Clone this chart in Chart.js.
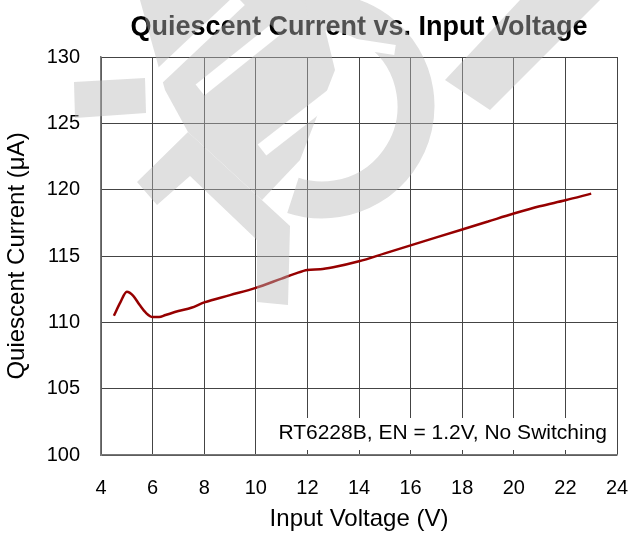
<!DOCTYPE html>
<html>
<head>
<meta charset="utf-8">
<script src="https://cdn.jsdelivr.net/npm/chart.js@4"></script>
<style>
  html, body { margin: 0; padding: 0; background: #fff; }
  #wrap { width: 631px; height: 534px; }
</style>
</head>
<body>
<div id="wrap"><canvas id="qChart" width="631" height="534"></canvas></div>
<script>
// Input voltage (V) and quiescent current (uA)
const voltage = [4.5, 4.75, 5.0, 5.25, 5.5, 5.75, 6.0, 6.25, 6.5, 7.0, 7.5, 8, 9, 10, 11, 11.5, 12, 12.5, 13, 14, 15, 16, 17, 18, 19, 20, 21, 22, 23];
const current = [110.5, 111.5, 112.3, 112.0, 111.3, 110.7, 110.4, 110.4, 110.55, 110.85, 111.1, 111.5, 112.05, 112.6, 113.3, 113.65, 113.95, 114.0, 114.15, 114.6, 115.2, 115.8, 116.4, 117.0, 117.6, 118.2, 118.75, 119.2, 119.7];

const xTicks = [4, 6, 8, 10, 12, 14, 16, 18, 20, 22, 24];
const yTicks = [100, 105, 110, 115, 120, 125, 130];
const noteText = 'RT6228B, EN = 1.2V, No Switching';

const FONT = 'Liberation Sans, Arial, sans-serif';

// white note box in the lower right of the plot
const notePlugin = {
    id: 'note',
    afterDatasetsDraw(chart) {
        const ctx = chart.ctx;
        const a = chart.chartArea;
        ctx.save();
        ctx.fillStyle = '#fff';
        ctx.fillRect(262, a.bottom - 37, a.right - 263, 32);
        ctx.fillStyle = '#000';
        ctx.font = '21px ' + FONT;
        ctx.textAlign = 'right';
        ctx.textBaseline = 'middle';
        ctx.fillText(noteText, a.right - 10, a.bottom - 22);
        ctx.restore();
    }
};

// light grey logo watermark laid over everything (drawn solid off-screen, then blended)
const watermarkPlugin = {
    id: 'watermark',
    afterDraw(chart) {
        const off = document.createElement('canvas');
        off.width = chart.width;
        off.height = chart.height;
        const g = off.getContext('2d');
        g.fillStyle = '#b8b8b8';
        g.strokeStyle = '#b8b8b8';
        const poly = pts => {
            g.beginPath();
            pts.forEach((p, i) => i ? g.lineTo(p[0], p[1]) : g.moveTo(p[0], p[1]));
            g.closePath();
            g.fill();
        };
        const band = (x1, y1, x2, y2, w) => {
            g.lineWidth = w;
            g.beginPath();
            g.moveTo(x1, y1);
            g.lineTo(x2, y2);
            g.stroke();
        };
        poly([[74, 82], [145, 78], [146, 113], [75, 118]]);
        // inner block
        poly([[140, 0], [318, 0], [335, 70], [300, 160], [262, 200], [188, 132], [165, 90]]);
        // Y shaped band + stem
        poly([[137, 182], [188, 132], [290, 226], [288, 305], [257, 302], [257, 240], [190, 176], [157, 205]]);
        // ring
        g.lineWidth = 37;
        g.beginPath();
        g.arc(322, 106, 94, -Math.PI * 0.55, Math.PI * 0.6);
        g.stroke();
        // top right stripe
        poly([[520, 0], [600, 0], [490, 110], [445, 80]]);
        // white cuts
        g.globalCompositeOperation = 'destination-out';
        g.lineCap = 'butt';
        band(150, 85, 240, 0, 14);
        band(200, 90, 275, 30, 14);
        band(262, 150, 352, 80, 14);
        band(330, 40, 395, 50, 10);
        const ctx = chart.ctx;
        ctx.save();
        ctx.globalAlpha = 0.44;
        ctx.drawImage(off, 0, 0);
        ctx.restore();
    }
};

new Chart(document.getElementById('qChart'), {
    type: 'line',
    data: {
        datasets: [{
            data: voltage.map((v, i) => ({ x: v, y: current[i] })),
            borderColor: '#960000',
            borderWidth: 2.5,
            pointRadius: 0,
            cubicInterpolationMode: 'monotone',
            fill: false
        }]
    },
    plugins: [notePlugin, watermarkPlugin],
    options: {
        responsive: false,
        animation: false,
        layout: { padding: { left: 0, right: 14, top: 0, bottom: 0 } },
        plugins: {
            legend: { display: false },
            tooltip: { enabled: false },
            title: {
                display: true,
                fullSize: false,
                text: 'Quiescent Current vs. Input Voltage',
                color: '#000',
                font: { family: FONT, size: 27, weight: 'bold' },
                padding: { top: 11, bottom: 13.6 }
            }
        },
        scales: {
            x: {
                type: 'linear',
                min: 4,
                max: 24,
                afterBuildTicks: s => { s.ticks = xTicks.map(v => ({ value: v })); },
                afterFit: s => { s.height = 79; s.paddingLeft = 0; s.paddingRight = 0; },
                grid: { color: '#444', lineWidth: 1, drawTicks: false },
                border: { color: '#777', width: 1.5 },
                ticks: { color: '#000', padding: 21, font: { family: FONT, size: 20 } },
                title: {
                    display: true,
                    text: 'Input Voltage (V)',
                    color: '#000',
                    font: { family: FONT, size: 24 },
                    padding: { top: 0, bottom: 0 }
                }
            },
            y: {
                type: 'linear',
                min: 100,
                max: 130,
                afterBuildTicks: s => { s.ticks = yTicks.map(v => ({ value: v })); },
                afterFit: s => { s.width = 101; s.paddingTop = 0; s.paddingBottom = 0; },
                grid: { color: '#444', lineWidth: 1, drawTicks: false },
                border: { color: '#777', width: 1.5 },
                ticks: { color: '#000', padding: 21, font: { family: FONT, size: 20 } },
                title: {
                    display: true,
                    text: 'Quiescent Current (\u03bcA)',
                    color: '#000',
                    font: { family: FONT, size: 24 },
                    padding: { top: 3, bottom: 0 }
                }
            }
        }
    }
});
</script>
</body>
</html>
